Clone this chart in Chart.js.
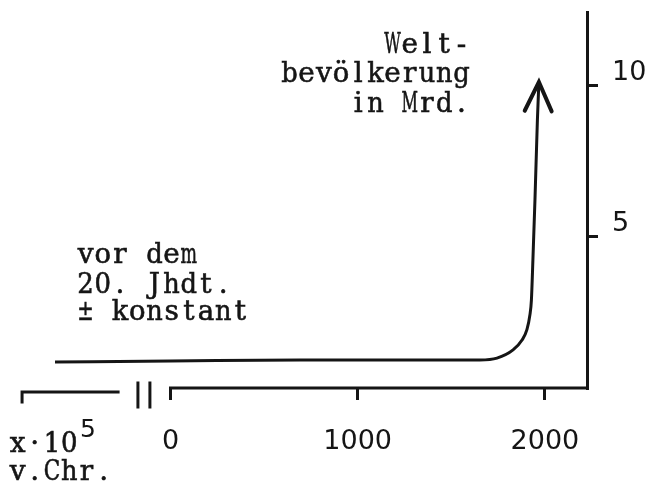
<!DOCTYPE html>
<html>
<head>
<meta charset="utf-8">
<script src="https://cdn.jsdelivr.net/npm/chart.js@4.4.1/dist/chart.umd.min.js"></script>
<style>
  html, body { margin: 0; padding: 0; background: #fff; }
</style>
</head>
<body>
<canvas id="chart" width="651" height="488"></canvas>
<script>
const years = [-617, 0, 692, 1653, 1744, 1830, 1878, 1904, 1920, 1928, 1936, 1947, 1960, 1968];
const population = [0.86, 0.89, 0.93, 0.93, 0.99, 1.26, 1.59, 1.93, 2.42, 2.91, 4.24, 6.23, 8.87, 10.13];
const xTicks = [0, 1000, 2000];
const yTicks = [5, 10];
// Stück Achse "x·10^5 v.Chr." links vom Bruch
const farPast = [-793, -280];
const breakMarks = [-174, -110];

const TYPE = "'DejaVu Serif', serif";
const DIGITS = "'DejaVu Sans', sans-serif";
const INK = '#151515';
const CELL = 17.2;

// Schreibmaschine: jedes Zeichen in einer festen Zelle
function typed(ctx, text, px, py, align) {
    const chars = Array.from(text);
    const start = align === 'right' ? px - CELL * chars.length : px;
    ctx.textAlign = 'left';
    ctx.lineWidth = 0.6;
    chars.forEach((ch, i) => {
        if (ch === ' ') return;
        const w = ctx.measureText(ch).width;
        const sx = Math.min(1, CELL * 0.96 / w);
        ctx.save();
        ctx.translate(start + i * CELL + CELL / 2, py);
        ctx.scale(sx, 1);
        ctx.fillText(ch, -w / 2, 0);
        ctx.strokeText(ch, -w / 2, 0);
        ctx.restore();
    });
}

const sketch = {
    id: 'sketch',
    afterDraw(chart) {
        const ctx = chart.ctx;
        const x = chart.scales.x, y = chart.scales.y;
        const y0 = y.getPixelForValue(0);
        ctx.save();
        ctx.strokeStyle = INK;
        ctx.fillStyle = INK;
        ctx.lineCap = 'square';
        ctx.lineWidth = 3;

        // x-Achse ab 0
        ctx.beginPath();
        ctx.moveTo(x.getPixelForValue(0), y0);
        ctx.lineTo(chart.chartArea.right, y0);
        ctx.stroke();

        // linkes Stück mit Haken
        const ly = y0 + 4;
        ctx.beginPath();
        ctx.moveTo(x.getPixelForValue(farPast[0]), ly + 10);
        ctx.lineTo(x.getPixelForValue(farPast[0]), ly);
        ctx.lineTo(x.getPixelForValue(farPast[1]), ly);
        ctx.stroke();

        // Bruchzeichen ||
        breakMarks.forEach(v => {
            const px = x.getPixelForValue(v);
            ctx.beginPath();
            ctx.moveTo(px, y0 - 5);
            ctx.lineTo(px, y0 + 19);
            ctx.stroke();
        });

        // Pfeilspitze am Ende der Kurve
        const n = years.length;
        const tx = x.getPixelForValue(years[n - 1]), ty = y.getPixelForValue(population[n - 1]);
        const bx = x.getPixelForValue(years[n - 2]), by = y.getPixelForValue(population[n - 2]);
        const ang = Math.atan2(ty - by, tx - bx);
        ctx.lineWidth = 4;
        ctx.lineCap = 'round';
        ctx.beginPath();
        ctx.moveTo(tx + 32 * Math.cos(ang + Math.PI - 0.45), ty + 32 * Math.sin(ang + Math.PI - 0.45));
        ctx.lineTo(tx, ty);
        ctx.lineTo(tx + 32 * Math.cos(ang + Math.PI + 0.42), ty + 32 * Math.sin(ang + Math.PI + 0.42));
        ctx.stroke();

        // Beschriftungen
        ctx.font = '28px ' + TYPE;
        ctx.textBaseline = 'alphabetic';
        typed(ctx, 'Welt-', 470, 53, 'right');
        typed(ctx, 'bevölkerung', 470, 82, 'right');
        typed(ctx, 'in Mrd.', 470, 112, 'right');

        typed(ctx, 'vor dem', 77, 263);
        typed(ctx, '20. Jhdt.', 77, 293);
        typed(ctx, '± konstant', 77, 320);

        typed(ctx, 'x·10', 9, 452);
        typed(ctx, 'v.Chr.', 9, 480);
        ctx.font = '25px ' + DIGITS;
        ctx.textAlign = 'left';
        ctx.fillText('5', 80, 437);
        ctx.restore();
    }
};

new Chart(document.getElementById('chart'), {
    type: 'line',
    data: {
        datasets: [{
            data: years.map((yr, i) => ({ x: yr, y: population[i] })),
            borderColor: INK,
            borderWidth: 3,
            pointRadius: 0,
            cubicInterpolationMode: 'monotone',
            fill: false
        }]
    },
    options: {
        responsive: false,
        devicePixelRatio: 1,
        animation: false,
        layout: { padding: { left: 20, top: 12, right: 0, bottom: 0 } },
        plugins: { legend: { display: false }, tooltip: { enabled: false } },
        scales: {
            x: {
                type: 'linear',
                min: -804,
                max: 2225,
                afterBuildTicks: s => { s.ticks = xTicks.map(v => ({ value: v })); },
                afterFit: s => { s.height = 100; s.paddingLeft = 0; s.paddingRight = 0; },
                border: { display: false },
                grid: { drawOnChartArea: false, drawTicks: true, tickLength: 12, lineWidth: 3, color: INK },
                ticks: { color: INK, font: { family: DIGITS, size: 27 }, padding: 26, maxRotation: 0, callback: v => String(v) }
            },
            y: {
                position: 'right',
                min: 0,
                max: 12.45,
                afterBuildTicks: s => { s.ticks = yTicks.map(v => ({ value: v })); },
                afterFit: s => { s.width = 64; s.paddingTop = 0; s.paddingBottom = 0; },
                border: { display: true, color: INK, width: 3 },
                grid: { drawOnChartArea: false, drawTicks: true, tickLength: 11, lineWidth: 3, color: INK },
                ticks: { color: INK, font: { family: DIGITS, size: 27 }, padding: 14, labelOffset: -13, callback: v => String(v) }
            }
        }
    },
    plugins: [sketch]
});
</script>
</body>
</html>
